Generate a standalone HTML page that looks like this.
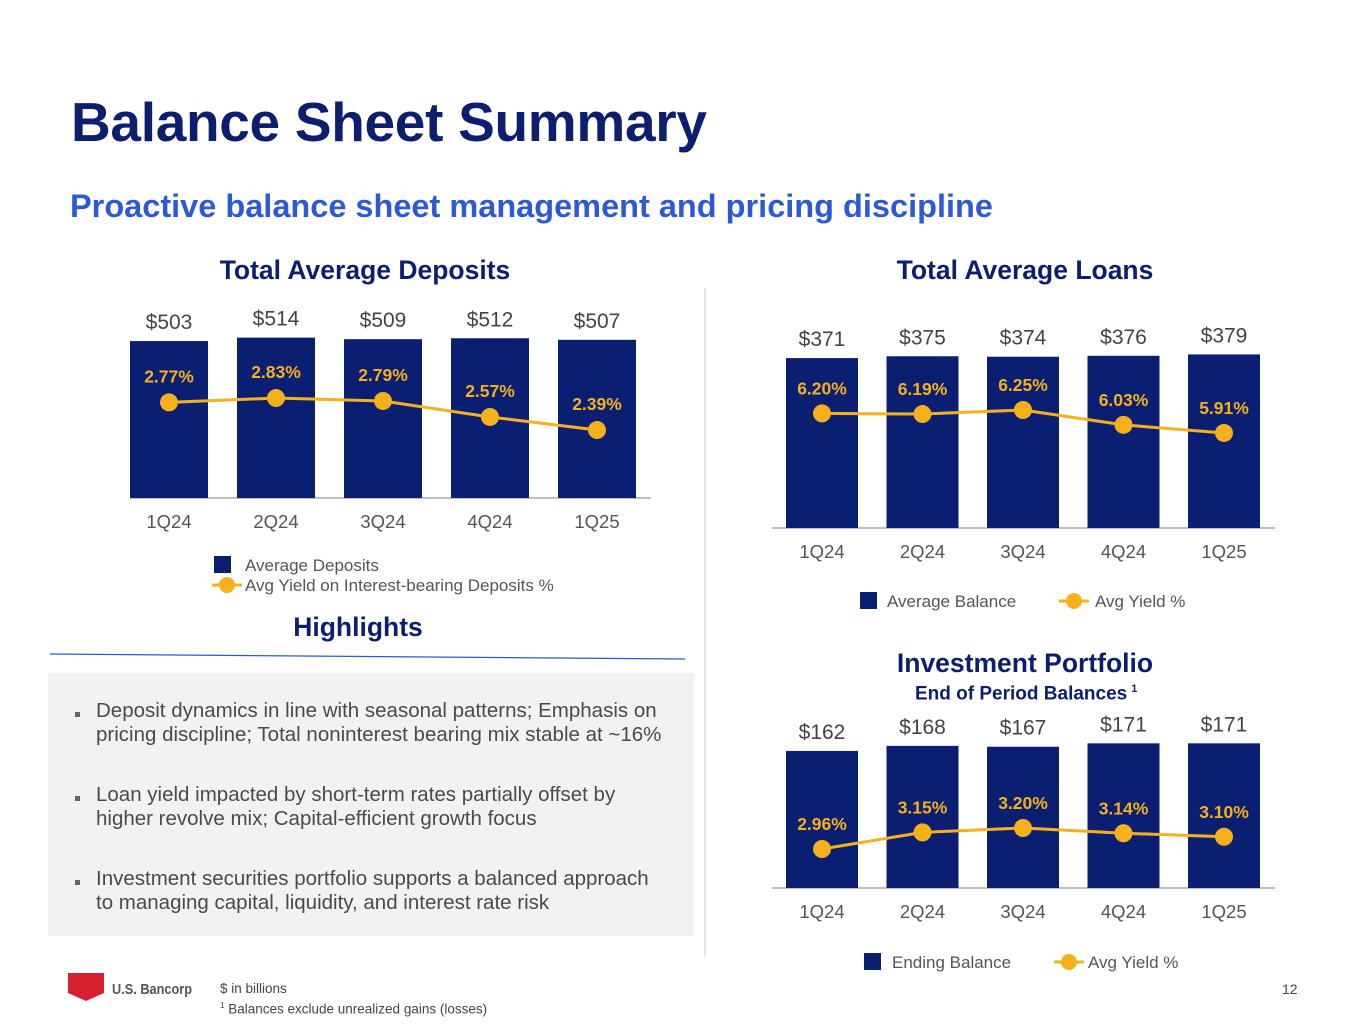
<!DOCTYPE html>
<html><head><meta charset="utf-8"><style>
body{margin:0;width:1365px;height:1024px;background:#fff;font-family:"Liberation Sans",sans-serif;position:relative;overflow:hidden}
.abs{position:absolute}
h1{position:absolute;left:71px;top:90px;margin:0;font-size:55px;font-weight:bold;color:#0c1f6e;letter-spacing:-0.3px}
.sub{left:70px;top:188px;font-size:32.5px;font-weight:bold;color:#2c5ad6}
.ct{font-size:26.5px;font-weight:bold;color:#0c1f6e;text-align:center;width:500px}
.bul{left:96px;font-size:20.5px;color:#4a4a4a;line-height:24px;width:572px}
.dot{position:absolute;left:75px;width:5px;height:5px;background:#666}
</style></head><body>
<h1>Balance Sheet Summary</h1>
<div class="abs sub">Proactive balance sheet management and pricing discipline</div>
<div class="abs ct" style="left:115px;top:255px">Total Average Deposits</div>
<div class="abs ct" style="left:775px;top:255px">Total Average Loans</div>
<div class="abs ct" style="left:775px;top:648px">Investment Portfolio</div>
<div class="abs" style="left:915px;top:683px;font-size:19px;font-weight:bold;color:#0c1f6e">End of Period Balances<sup style="font-size:11px;margin-left:4px">1</sup></div>
<div class="abs" style="left:704px;top:288px;width:2px;height:668px;background:#e3e3e3"></div>
<div class="abs ct" style="left:108px;top:612px">Highlights</div>
<svg class="abs" style="left:0;top:0" width="1365" height="1024"><line x1="50" y1="654" x2="685" y2="659" stroke="#2c5ad6" stroke-width="1.2"/></svg>
<div class="abs" style="left:48px;top:673px;width:646px;height:263px;background:#f2f2f2"></div>
<div class="dot" style="top:712px"></div><div class="abs bul" style="top:699px">Deposit dynamics in line with seasonal patterns; Emphasis on pricing discipline; Total noninterest bearing mix stable at ~16%</div>
<div class="dot" style="top:796px"></div><div class="abs bul" style="top:783px">Loan yield impacted by short-term rates partially offset by higher revolve mix; Capital-efficient growth focus</div>
<div class="dot" style="top:880px"></div><div class="abs bul" style="top:867px">Investment securities portfolio supports a balanced approach to managing capital, liquidity, and interest rate risk</div>
<svg class="abs" style="left:66px;top:971px" width="40" height="32"><path d="M2 2H38V22L20 30L2 22Z" fill="#d7202f"/></svg>
<div class="abs" style="left:112px;top:981px;font-size:15px;font-weight:bold;color:#555;transform:scaleX(0.85);transform-origin:left">U.S. Bancorp</div>
<div class="abs" style="left:220px;top:980px;font-size:13.5px;color:#444;line-height:17px">$ in billions<br><sup style="font-size:8px">1</sup> Balances exclude unrealized gains (losses)</div>
<div class="abs" style="left:1282px;top:981px;font-size:14px;color:#444">12</div>
<svg id="ch" class="abs" style="left:0;top:0" width="1365" height="1024"></svg>
<script>
const quarters=["1Q24","2Q24","3Q24","4Q24","1Q25"];
const depositBalances=[503,514,509,512,507];
const depositYields=[2.77,2.83,2.79,2.57,2.39];
const loanBalances=[371,375,374,376,379];
const loanYields=[6.20,6.19,6.25,6.03,5.91];
const investBalances=[162,168,167,171,171];
const investYields=[2.96,3.15,3.20,3.14,3.10];
const NS="http://www.w3.org/2000/svg";
const svg=document.getElementById('ch');
function mk(t,a,txt){const e=document.createElementNS(NS,t);for(const k in a)e.setAttribute(k,a[k]);if(txt!=null)e.textContent=txt;svg.appendChild(e);return e;}
function chart(name,bals,ylds,c){
  const xs=i=>c.x0+i*c.step;
  const yb=v=>c.base-v*c.bs;
  const yy=v=>c.ya-v*c.yb;
  const ax=mk('line',{x1:c.ax1,x2:c.ax2,y1:c.base,y2:c.base,stroke:'#aaa','stroke-width':1.5});
  
  
  bals.forEach((v,i)=>{
    const r=mk('rect',{x:xs(i)-c.bw/2,y:yb(v),width:c.bw,height:c.base-yb(v),fill:'#0a1f72'});
    
    
    const t=mk('text',{x:xs(i),y:yb(v)-12,'text-anchor':'middle','font-size':21,fill:'#444'},'$'+v);
    
    
    const q=mk('text',{x:xs(i),y:c.base+30,'text-anchor':'middle','font-size':18.5,fill:'#555'},quarters[i]);
    
    
  });
  const pl=mk('polyline',{points:ylds.map((v,i)=>xs(i)+','+yy(v)).join(' '),fill:'none',stroke:'#f6b01c','stroke-width':3});
  
  
  ylds.forEach((v,i)=>{
    const d=mk('circle',{cx:xs(i),cy:yy(v),r:9,fill:'#f6b01c'});
    
    
    const l=mk('text',{x:xs(i),y:yy(v)-c.lo,'text-anchor':'middle','font-size':17.5,'font-weight':'bold',fill:'#f6b01c'},v.toFixed(2)+'%');
    
    
  });
}
chart('deposits',depositBalances,depositYields,{x0:169,step:107,bw:78,base:498,bs:0.312,ya:603.8,yb:72.7,ax1:130,ax2:651,lo:20});
chart('loans',loanBalances,loanYields,{x0:822,step:100.5,bw:72,base:528,bs:0.458,ya:832.5,yb:67.6,ax1:772,ax2:1275,lo:19});
chart('investment',investBalances,investYields,{x0:822,step:100.5,bw:72,base:888,bs:0.846,ya:1108,yb:87.5,ax1:772,ax2:1275,lo:19});
function legend(name,sx,sy,tx,label,lx,ly,ltx,llabel){
  const s=mk('rect',{x:sx,y:sy-9,width:17,height:17,fill:'#0a1f72'});
  
  
  const t=mk('text',{x:tx,y:sy+6,'font-size':17,fill:'#555'},label);
  
  
  const l=mk('line',{x1:lx-15,x2:lx+15,y1:ly,y2:ly,stroke:'#f6b01c','stroke-width':3});
  
  
  mk('circle',{cx:lx,cy:ly,r:8,fill:'#f6b01c'});
  const t2=mk('text',{x:ltx,y:ly+6,'font-size':17,fill:'#555'},llabel);
  
  
}
legend('deposits',214,565,245,'Average Deposits',227,585,245,'Avg Yield on Interest-bearing Deposits %');
legend('loans',860,601,887,'Average Balance',1074,601,1095,'Avg Yield %');
legend('investment',864,962,892,'Ending Balance',1069,962,1088,'Avg Yield %');
</script>
</body></html>
